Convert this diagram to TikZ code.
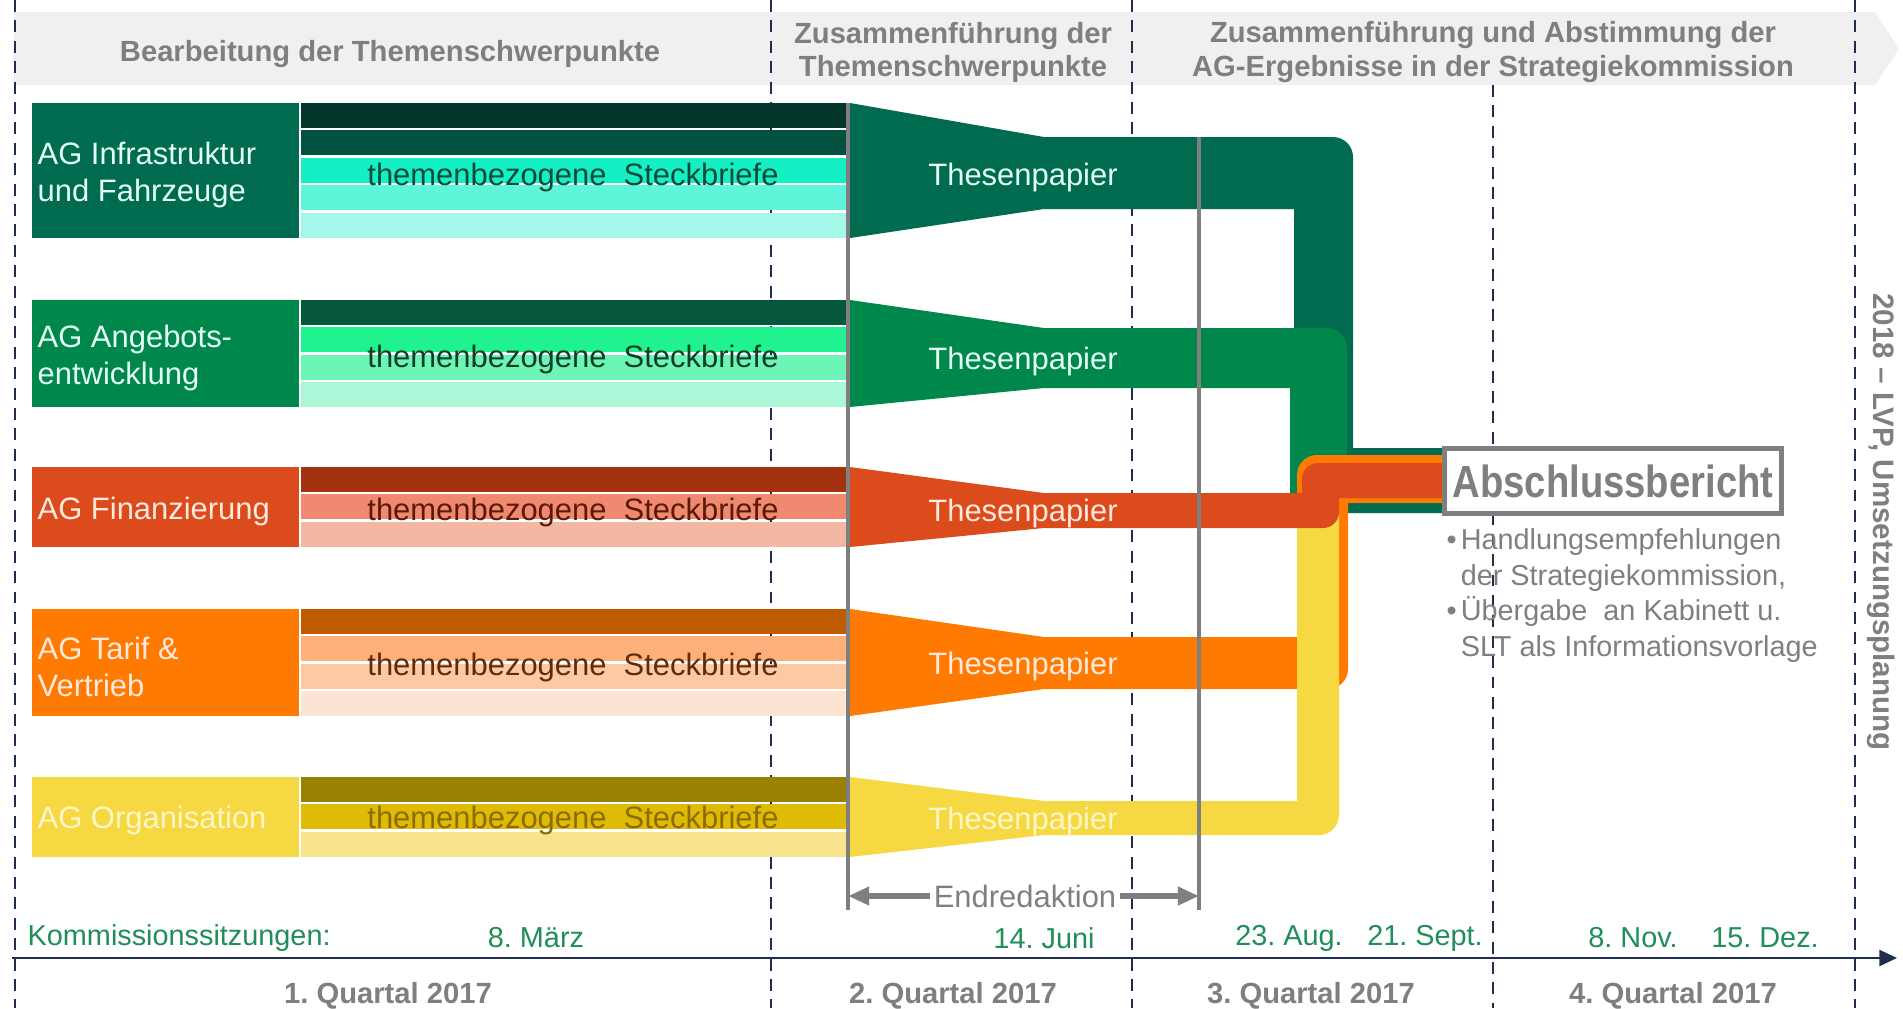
\documentclass[tikz,border=0pt]{standalone}
\usepackage{fontspec}
\setmainfont{Liberation Sans}
\newfontfamily\narrowfont[FakeStretch=0.85]{Liberation Sans}
\usetikzlibrary{arrows.meta}
\frenchspacing

\definecolor{navy}{HTML}{1F2D4E}
\definecolor{midgrey}{HTML}{7F7F7F}
\definecolor{bandgrey}{HTML}{F0F0F0}
\definecolor{datgreen}{HTML}{1F8E57}
\definecolor{g1}{HTML}{006B4F}
\definecolor{g2}{HTML}{00874B}
\definecolor{r3}{HTML}{DC4B1B}
\definecolor{o4}{HTML}{FF7A00}
\definecolor{y5}{HTML}{F6D843}
\definecolor{s11}{HTML}{04352A}
\definecolor{s12}{HTML}{03513F}
\definecolor{s13}{HTML}{14F0C3}
\definecolor{s14}{HTML}{5EF5DA}
\definecolor{s15}{HTML}{A5F7E9}
\definecolor{s21}{HTML}{04573A}
\definecolor{s22}{HTML}{1FF28E}
\definecolor{s23}{HTML}{6DF5B7}
\definecolor{s24}{HTML}{ACF7D7}
\definecolor{s31}{HTML}{A3320F}
\definecolor{s32}{HTML}{EF8A70}
\definecolor{s33}{HTML}{F4B7A3}
\definecolor{s41}{HTML}{BF5C02}
\definecolor{s42}{HTML}{FDB07A}
\definecolor{s43}{HTML}{FDC9A5}
\definecolor{s44}{HTML}{FBE4D2}
\definecolor{s51}{HTML}{9A8000}
\definecolor{s52}{HTML}{E0BB05}
\definecolor{s53}{HTML}{F7E48D}
\definecolor{t1}{HTML}{0E4A3C}
\definecolor{t2}{HTML}{0D3F27}
\definecolor{t3}{HTML}{5B1A08}
\definecolor{t4}{HTML}{5E2C0B}
\definecolor{t5}{HTML}{8A6D00}
\definecolor{l1}{HTML}{E3FFF6}
\definecolor{l3}{HTML}{FFE9DE}
\definecolor{l5}{HTML}{FFF6C8}

\begin{document}
\begin{tikzpicture}[x=0.01cm,y=-0.01cm,
  qline/.style={draw=navy,line width=0.6pt,dash pattern=on 3.4pt off 2.4pt},
  endline/.style={draw=midgrey,line width=1.2pt},
  redarrow/.style={draw=midgrey,line width=1.7pt,-{Triangle[length=6pt,width=5pt]}},
  axis/.style={draw=navy,line width=0.8pt,-{Triangle[length=5pt,width=4.5pt]}},
  head/.style={text=midgrey,align=center,font=\fontsize{8.3}{9.4}\selectfont\bfseries},
  lab/.style={anchor=west,align=left,inner sep=0pt,font=\fontsize{8.8}{10.7}\selectfont},
  body/.style={font=\fontsize{8.8}{10.6}\selectfont},
  datum/.style={text=datgreen,inner sep=0pt,font=\fontsize{8.2}{9.8}\selectfont},
  quart/.style={text=midgrey,font=\fontsize{8.3}{9.8}\selectfont\bfseries}]

  \useasboundingbox (0,0) rectangle (1903,1008);

  % phases
  \fill[bandgrey] (14,12) -- (1875,12) -- (1899,49) -- (1875,85) -- (14,85) -- cycle;
  \node[head] (ph1) at (390,54) {Bearbeitung der Themenschwerpunkte};
  \node[head] (ph2) at (953,52) {Zusammenführung der\\Themenschwerpunkte};
  \node[head] (ph3) at (1493,52) {Zusammenführung und Abstimmung der\\AG-Ergebnisse in der Strategiekommission};

  \draw[qline] (15,0) -- (15,1008);
  \draw[qline] (771,0) -- (771,1008);
  \draw[qline] (1132,0) -- (1132,1008);
  \draw[qline] (1493,85) -- (1493,1008);
  \draw[qline] (1855,0) -- (1855,1008);

  % working groups
  \fill[g1] (32,103) rectangle (299,238);
  \fill[s11] (301,103) rectangle (846,128);
  \fill[s12] (301,130) rectangle (846,155);
  \fill[s13] (301,158) rectangle (846,183);
  \fill[s14] (301,185) rectangle (846,210);
  \fill[s15] (301,213) rectangle (846,238);

  \fill[g2] (32,300) rectangle (299,407);
  \fill[s21] (301,300) rectangle (846,325);
  \fill[s22] (301,327) rectangle (846,352);
  \fill[s23] (301,355) rectangle (846,380);
  \fill[s24] (301,382) rectangle (846,407);

  \fill[r3] (32,467) rectangle (299,547);
  \fill[s31] (301,467) rectangle (846,492);
  \fill[s32] (301,494) rectangle (846,519);
  \fill[s33] (301,522) rectangle (846,547);

  \fill[o4] (32,609) rectangle (299,716);
  \fill[s41] (301,609) rectangle (846,634);
  \fill[s42] (301,636) rectangle (846,661);
  \fill[s43] (301,664) rectangle (846,689);
  \fill[s44] (301,691) rectangle (846,716);

  \fill[y5] (32,777) rectangle (299,857);
  \fill[s51] (301,777) rectangle (846,802);
  \fill[s52] (301,804) rectangle (846,829);
  \fill[s53] (301,832) rectangle (846,857);

  \node[lab,text=l1] (agInfra) at (37,175) {AG Infrastruktur\\und Fahrzeuge};
  \node[lab,text=l1] (agAngebot) at (37,358) {AG Angebots-\\entwicklung};
  \node[lab,text=l3] (agFinanz) at (37,511) {AG Finanzierung};
  \node[lab,text=l3] (agTarif) at (37,667) {AG Tarif \&\\Vertrieb};
  \node[lab,text=l5] (agOrga) at (37,820) {AG Organisation};

  \node[body,text=t1] (sb1) at (573,177) {themenbezogene\ \ Steckbriefe};
  \node[body,text=t2] (sb2) at (573,359) {themenbezogene\ \ Steckbriefe};
  \node[body,text=t3] (sb3) at (573,512) {themenbezogene\ \ Steckbriefe};
  \node[body,text=t4] (sb4) at (573,667) {themenbezogene\ \ Steckbriefe};
  \node[body,text=t5] (sb5) at (573,820) {themenbezogene\ \ Steckbriefe};

  % flows into the final report
  \fill[g1] (850,103) -- (1044,137) -- (1333,137) arc[start angle=90,end angle=0,radius=2mm]
    -- (1353,448) -- (1444,448) -- (1444,513) -- (1294,513) -- (1294,209) -- (1044,209) -- (850,238) -- cycle;
  \fill[g2] (850,300) -- (1044,328) -- (1327,328) arc[start angle=90,end angle=0,radius=2mm]
    -- (1347,515) -- (1310,515) arc[start angle=270,end angle=180,radius=2mm]
    -- (1290,388) -- (1044,388) -- (850,407) -- cycle;
  \fill[o4] (850,609) -- (1044,637) -- (1297,637) -- (1297,475) arc[start angle=180,end angle=90,radius=2mm]
    -- (1444,455) -- (1444,503) -- (1348,503) -- (1348,669) arc[start angle=0,end angle=-90,radius=2mm]
    -- (1044,689) -- (850,716) -- cycle;
  \fill[y5] (850,777) -- (1044,801) -- (1297,801) -- (1297,500) -- (1339,500)
    -- (1339,815) arc[start angle=0,end angle=-90,radius=2mm] -- (1044,835) -- (850,857) -- cycle;
  \fill[r3] (850,467) -- (1044,493) -- (1302,493) -- (1302,479) arc[start angle=180,end angle=90,radius=1.6mm]
    -- (1444,463) -- (1444,498) -- (1339,498) -- (1339,512) arc[start angle=0,end angle=-90,radius=1.6mm]
    -- (1044,528) -- (850,547) -- cycle;

  \node[body,text=l1] (tp1) at (1023,177) {Thesenpapier};
  \node[body,text=l1] (tp2) at (1023,361) {Thesenpapier};
  \node[body,text=l3] (tp3) at (1023,513) {Thesenpapier};
  \node[body,text=l3] (tp4) at (1023,666) {Thesenpapier};
  \node[body,text=l5] (tp5) at (1023,821) {Thesenpapier};

  % Endredaktion
  \coordinate (redA) at (848,103);
  \coordinate (redAend) at (848,910);
  \coordinate (redB) at (1199,137);
  \coordinate (redBend) at (1199,910);
  \draw[endline] (redA) -- (redAend);
  \draw[endline] (redB) -- (redBend);
  \node[body,text=midgrey,inner sep=1pt] (endred) at (1025,896) {Endredaktion};
  \draw[redarrow] (endred.west) -- (redA |- endred.west);
  \draw[redarrow] (endred.east) -- (redB |- endred.east);

  % result
  \node[draw=midgrey,line width=1.4pt,fill=white,minimum width=3.36cm,minimum height=0.65cm,inner sep=0pt,
    text=midgrey,font=\narrowfont\bfseries\fontsize{12.8}{14}\selectfont] (bericht) at (1613,481) {Abschlussbericht};
  \node[anchor=north west,align=left,inner sep=0pt,text=midgrey,font=\fontsize{8.2}{10.1}\selectfont] (punkte) at (1446,528)
    {\makebox[4pt][l]{\textbullet}Handlungsempfehlungen\\\hspace*{4pt}der Strategiekommission,\\
     \makebox[4pt][l]{\textbullet}Übergabe\ \ an Kabinett u.\\\hspace*{4pt}SLT als Informationsvorlage};
  \node[rotate=-90,text=midgrey,font=\fontsize{8.4}{10}\selectfont\bfseries] (lvp) at (1881,522) {2018 – LVP, Umsetzungsplanung};

  % time line
  \node[datum,anchor=west] (ksitz) at (27,938) {Kommissionssitzungen:};
  \node[datum] (mar) at (536,938) {8. März};
  \node[datum] (jun) at (1044,938) {14. Juni};
  \node[datum] (aug) at (1289,938) {23. Aug.};
  \node[datum] (sept) at (1425,938) {21. Sept.};
  \node[datum] (nov) at (1633,938) {8. Nov.};
  \node[datum] (dez) at (1765,938) {15. Dez.};

  \coordinate (t0) at (12,958);
  \coordinate (t1) at (1897,958);
  \draw[axis] (t0) -- (t1);

  \node[quart] (q1) at (388,996) {1. Quartal 2017};
  \node[quart] (q2) at (953,996) {2. Quartal 2017};
  \node[quart] (q3) at (1311,996) {3. Quartal 2017};
  \node[quart] (q4) at (1673,996) {4. Quartal 2017};
\end{tikzpicture}
\end{document}
